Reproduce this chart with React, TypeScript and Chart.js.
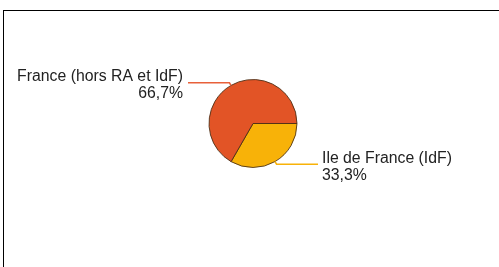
import React, { useEffect, useRef } from "react";
import { Chart, registerables } from "chart.js";

Chart.register(...registerables);

const categories: string[] = ["Ile de France (IdF)", "France (hors RA et IdF)"];
const values: number[] = [33.3, 66.7];
const sliceColors: string[] = ["#F8B208", "#E25426"];
const leaderColors: string[] = ["#F8B208", "#E8603A"];

const labelPlugin = {
  id: "outsideLabels",
  afterDatasetsDraw(chart: any) {
    const ctx = chart.ctx;
    const meta = chart.getDatasetMeta(0);
    const ds = chart.data.datasets[0].data as number[];
    const total = ds.reduce((a: number, b: number) => a + b, 0);
    ctx.save();
    meta.data.forEach((arc: any, i: number) => {
      const { x, y, startAngle, endAngle, outerRadius } = arc.getProps(
        ["x", "y", "startAngle", "endAngle", "outerRadius"],
        true
      );
      const mid = (startAngle + endAngle) / 2;
      const cos = Math.cos(mid);
      const sin = Math.sin(mid);
      const px = x + cos * outerRadius;
      const py = y + sin * outerRadius;
      const ex = x + cos * (outerRadius + 3);
      const ey = y + sin * (outerRadius + 3);
      const right = cos >= 0;
      const endX = right ? x + outerRadius + 21 : x - outerRadius - 21;
      ctx.strokeStyle = leaderColors[i];
      ctx.lineWidth = 1.5;
      ctx.beginPath();
      ctx.moveTo(px, py);
      ctx.lineTo(ex, ey);
      ctx.lineTo(endX, ey);
      ctx.stroke();
      ctx.fillStyle = "#222";
      ctx.font = "15.8px 'Liberation Sans', Arial, sans-serif";
      ctx.textBaseline = "alphabetic";
      ctx.textAlign = right ? "left" : "right";
      const tx = right ? endX + 4 : endX - 5;
      const pct = ((ds[i] / total) * 100).toFixed(1).replace(".", ",") + "%";
      ctx.fillText(chart.data.labels[i], tx, ey - 1.5);
      ctx.fillText(pct, tx, ey + 15.5);
    });
    ctx.restore();
  },
};

export default function App() {
  const ref = useRef<HTMLCanvasElement | null>(null);
  useEffect(() => {
    if (!ref.current) return;
    const chart = new Chart(ref.current, {
      type: "pie",
      data: {
        labels: categories,
        datasets: [
          {
            data: values,
            backgroundColor: sliceColors,
            borderColor: "rgba(70,45,20,0.85)",
            borderWidth: 1,
          },
        ],
      },
      options: {
        responsive: false,
        animation: false,
        rotation: 90,
        layout: { padding: { left: 208.5, right: 201.5, top: 79, bottom: 99 } },
        plugins: {
          legend: { display: false },
          tooltip: { enabled: false },
        },
      },
      plugins: [labelPlugin],
    });
    return () => chart.destroy();
  }, []);
  return (
    <div
      style={{
        position: "fixed",
        left: 0,
        top: 0,
        width: 499,
        height: 267,
        overflow: "hidden",
        background: "#fff",
      }}
    >
      <div
        style={{
          position: "absolute",
          left: 3,
          top: 10,
          width: 600,
          height: 400,
          borderLeft: "1px solid #000",
          borderTop: "1px solid #000",
        }}
      />
      <canvas
        ref={ref}
        width={499}
        height={267}
        style={{ position: "absolute", left: 0, top: 0, width: 499, height: 267 }}
      />
    </div>
  );
}
